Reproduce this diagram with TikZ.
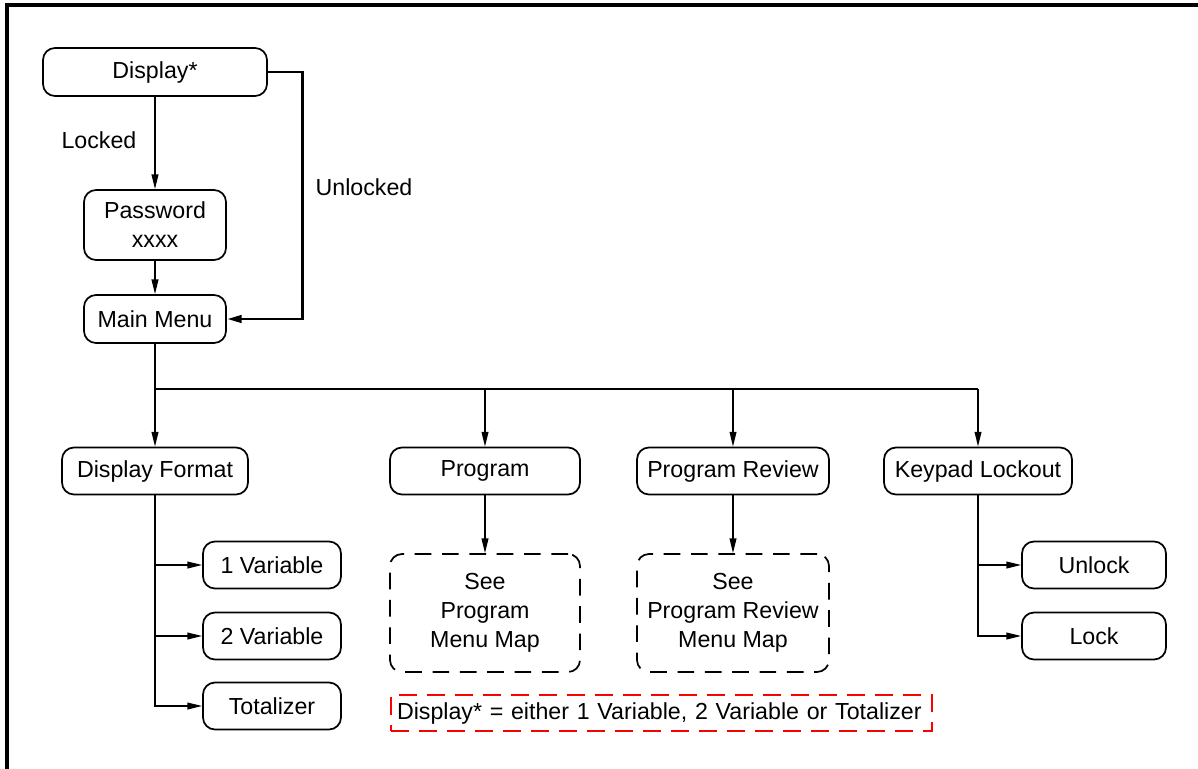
\documentclass[tikz,border=0pt]{standalone}
\usepackage{fontspec}
\setmainfont{Liberation Sans}
\usetikzlibrary{arrows.meta}
\tikzset{
  box/.style={draw, line width=1.3pt, rounded corners=9pt, inner sep=0pt, align=center, font=\fontsize{17.4}{21.75}\selectfont},
  mapbox/.style={box, dash pattern=on 12.5pt off 8pt},
  note/.style={draw=red, line width=1pt, dash pattern=on 13.5pt off 7.5pt, inner xsep=4.5pt, inner ysep=0pt, align=left, font=\fontsize{17.4}{21.75}\selectfont},
  lbl/.style={font=\fontsize{17.4}{21.75}\selectfont, inner sep=0pt},
  arr/.style={line width=1.2pt, -{Triangle[length=11pt,width=5pt]}},
  thickarr/.style={line width=2.2pt, -{Triangle[length=11pt,width=5.5pt]}},
  thickline/.style={line width=2.2pt},
}
\begin{document}
\begin{tikzpicture}[x=0.75pt,y=-0.75pt]
\useasboundingbox (0,0) rectangle (1198,768);
\draw[line width=2.4pt] (7,5) rectangle (1220,790);

\node[box, minimum width=168pt, minimum height=36pt] (disp) at (155,72) {Display*};
\node[box, minimum width=106.5pt, minimum height=52.5pt] (pw) at (155,225) {Password\\xxxx};
\node[box, minimum width=106.5pt, minimum height=36pt] (mm) at (155,319) {Main Menu};

\node[lbl] (locked) at (99,140) {Locked};
\node[lbl] (unlocked) at (364,187) {Unlocked};

\node[box, minimum width=139.5pt, minimum height=35.25pt] (df) at (155,471) {Display Format};
\node[box, minimum width=142.5pt, minimum height=35.25pt] (prog) at (485,471) {Program};
\node[box, minimum width=144pt, minimum height=35.25pt] (rev) at (733,471) {Program Review};
\node[box, minimum width=141pt, minimum height=35.25pt] (kl) at (978,471) {Keypad Lockout};

\node[box, minimum width=103.5pt, minimum height=35.25pt] (v1) at (272,565) {1 Variable};
\node[box, minimum width=103.5pt, minimum height=35.25pt] (v2) at (272,636) {2 Variable};
\node[box, minimum width=103.5pt, minimum height=35.25pt] (tot) at (272,706) {Totalizer};

\node[box, minimum width=108pt, minimum height=35.25pt] (unl) at (1094,565) {Unlock};
\node[box, minimum width=108pt, minimum height=35.25pt] (lock) at (1094,636) {Lock};

\node[mapbox, minimum width=142.5pt, minimum height=88.5pt] (pmap) at (485,613) {See\\Program\\Menu Map};
\node[mapbox, minimum width=144pt, minimum height=88.5pt] (rmap) at (733,613) {See\\Program Review\\Menu Map};

\node[note, text width=396.75pt, minimum height=27pt] (nt) at (661.5,713) {Display* = either 1 Variable, 2 Variable or Totalizer};

% connectors
\draw[arr] (disp.south) -- (pw.north);
\draw[arr] (pw.south) -- (mm.north);
\draw[thickarr] (disp.east) -- ++(35,0) |- (mm.east);

\coordinate (busL) at (155,389);
\coordinate (busR) at (978,389);
\draw[arr] (mm.south) -- (df.north);
\draw[thickline] (busL) -- (busR);
\draw[arr] (prog.north |- busL) -- (prog.north);
\draw[arr] (rev.north |- busL) -- (rev.north);
\draw[arr] (busR) -- (kl.north);

\draw[arr] (df.south) |- (tot.west);
\draw[arr] (df.south |- v1.west) -- (v1.west);
\draw[arr] (df.south |- v2.west) -- (v2.west);

\draw[arr] (kl.south) |- (lock.west);
\draw[arr] (kl.south |- unl.west) -- (unl.west);

\draw[arr] (prog.south) -- (pmap.north);
\draw[arr] (rev.south) -- (rmap.north);
\end{tikzpicture}
\end{document}
